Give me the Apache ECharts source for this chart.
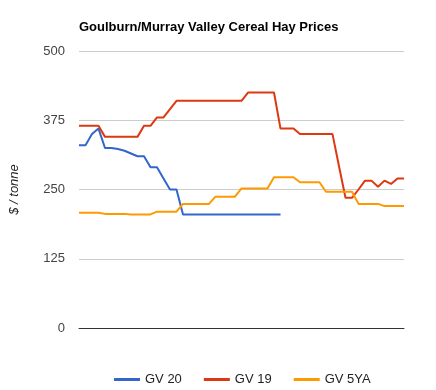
<!DOCTYPE html>
<html>
<head>
<meta charset="utf-8">
<script src="https://cdn.jsdelivr.net/npm/echarts@6/dist/echarts.min.js"></script>
<style>html,body{margin:0;padding:0;background:#fff}#c{width:436px;height:390px}</style>
</head>
<body>
<div id="c"></div>
<script>
var weeks = [];
for (var w = 1; w <= 51; w++) weeks.push('W' + w);
var gv20 = [330,330,350,360,325,325,323,320,315,310,310,290,290,270,250,250,
  205,205,205,205,205,205,205,205,205,205,205,205,205,205,205,205];
var gv19 = [365,365,365,365,345,345,345,345,345,345,365,365,380,380,395,
  410,410,410,410,410,410,410,410,410,410,410,425,425,425,425,425,
  360,360,360,350,350,350,350,350,350,292,235,235,250,266,266,255,266,260,270,270];
var gv5ya = [208,208,208,208,206,206,206,206,205,205,205,205,210,210,210,210,
  224,224,224,224,224,237,237,237,237,252,252,252,252,252,272,272,272,272,
  263,263,263,263,246,246,246,246,246,224,224,224,224,220,220,220,220];
var yTicks = [0,125,250,375,500];
var FONT = '"Liberation Sans", Arial, sans-serif';
var chart = echarts.init(document.getElementById('c'));
chart.setOption({
  animation: false,
  title: {
    text: 'Goulburn/Murray Valley Cereal Hay Prices',
    left: 74, top: 16,
    textStyle: {fontFamily: FONT, fontSize: 13, fontWeight: 'bold', color: '#000'}
  },
  legend: {
    left: 109, top: 368,
    itemWidth: 26, itemHeight: 3, itemGap: 22, icon: 'rect',
    textStyle: {fontFamily: FONT, fontSize: 13, color: '#222'},
    data: ['GV 20', 'GV 19', 'GV 5YA']
  },
  grid: {left: 79, right: 32, top: 51, bottom: 62},
  xAxis: {
    type: 'category', data: weeks, boundaryGap: false,
    axisLabel: {show: false}, axisTick: {show: false},
    axisLine: {lineStyle: {color: '#333', width: 1}}
  },
  yAxis: {
    type: 'value', min: yTicks[0], max: yTicks[yTicks.length - 1], interval: 125,
    name: '$ / tonne', nameLocation: 'middle', nameGap: 58,
    nameTextStyle: {fontFamily: FONT, fontSize: 13, fontStyle: 'italic', color: '#222'},
    axisLine: {show: false}, axisTick: {show: false},
    axisLabel: {margin: 14, fontFamily: FONT, fontSize: 13, color: '#444'},
    splitLine: {lineStyle: {color: '#ccc', width: 1}}
  },
  series: [
    {name: 'GV 20', type: 'line', data: gv20, showSymbol: false, color: '#3366cc', lineStyle: {width: 2}},
    {name: 'GV 19', type: 'line', data: gv19, showSymbol: false, color: '#dc3912', lineStyle: {width: 2}},
    {name: 'GV 5YA', type: 'line', data: gv5ya, showSymbol: false, color: '#ff9900', lineStyle: {width: 2}}
  ]
});
</script>
</body>
</html>
